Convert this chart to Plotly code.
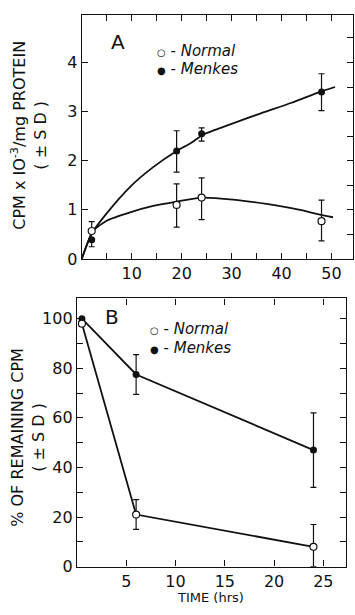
import plotly.graph_objects as go

# ---------------- Panel A data ----------------
a_time = [2, 19, 24, 48]
a_normal = [0.57, 1.10, 1.25, 0.77]
a_normal_up = [0.19, 0.43, 0.40, 0.43]
a_normal_dn = [0.0, 0.45, 0.45, 0.40]
a_menkes = [0.39, 2.20, 2.55, 3.40]
a_menkes_up = [0.0, 0.41, 0.12, 0.37]
a_menkes_dn = [0.14, 0.43, 0.15, 0.38]

a_fit_normal_t = [0, 2.3, 5, 9.7, 14.3, 19, 24, 30.3, 37, 43.7, 47, 50.3]
a_fit_normal_y = [0, 0.57, 0.78, 0.95, 1.08, 1.17, 1.25, 1.21, 1.12, 1.00, 0.92, 0.85]
a_fit_menkes_t = [0, 2, 5, 9.7, 14.3, 19, 21.7, 24.3, 30, 36, 42, 47.7, 50.7]
a_fit_menkes_y = [0, 0.52, 0.93, 1.47, 1.87, 2.20, 2.35, 2.53, 2.75, 2.97, 3.18, 3.40, 3.50]

a_xticks = [10, 20, 30, 40, 50]
a_yticks = [0, 1, 2, 3, 4]

# ---------------- Panel B data ----------------
b_time = [0.5, 6, 24]
b_normal = [98, 21, 8]
b_normal_up = [0, 6, 9]
b_normal_dn = [0, 6, 8]
b_menkes = [100, 77.5, 47]
b_menkes_up = [0, 8, 15]
b_menkes_dn = [0, 8, 15]

b_xticks = [5, 10, 15, 20, 25]
b_yticks = [0, 20, 40, 60, 80, 100]

W, H = 355, 615
FONT = "DejaVu Sans"
BLACK = "#111111"


def px_x(p):
    return p / W


def px_y(p):
    return 1 - p / H


fig = go.Figure()

# Panel A curves
fig.add_trace(go.Scatter(x=a_fit_menkes_t, y=a_fit_menkes_y, mode="lines",
                         line=dict(color=BLACK, width=1.8, shape="spline", smoothing=0.6),
                         xaxis="x", yaxis="y", showlegend=False, hoverinfo="skip"))
fig.add_trace(go.Scatter(x=a_fit_normal_t, y=a_fit_normal_y, mode="lines",
                         line=dict(color=BLACK, width=1.8, shape="spline", smoothing=0.6),
                         xaxis="x", yaxis="y", showlegend=False, hoverinfo="skip"))
# Panel A points
fig.add_trace(go.Scatter(x=a_time, y=a_menkes, mode="markers",
                         marker=dict(symbol="circle", size=7, color=BLACK),
                         error_y=dict(type="data", symmetric=False, array=a_menkes_up,
                                      arrayminus=a_menkes_dn, color=BLACK, thickness=1.2, width=3),
                         xaxis="x", yaxis="y", showlegend=False))
fig.add_trace(go.Scatter(x=a_time, y=a_normal, mode="markers",
                         marker=dict(symbol="circle", size=7, color="white",
                                     line=dict(color=BLACK, width=1.2)),
                         error_y=dict(type="data", symmetric=False, array=a_normal_up,
                                      arrayminus=a_normal_dn, color=BLACK, thickness=1.2, width=3),
                         xaxis="x", yaxis="y", showlegend=False))

# Panel B lines + points
fig.add_trace(go.Scatter(x=b_time, y=b_menkes, mode="lines+markers",
                         line=dict(color=BLACK, width=1.8),
                         marker=dict(symbol="circle", size=7, color=BLACK),
                         error_y=dict(type="data", symmetric=False, array=b_menkes_up,
                                      arrayminus=b_menkes_dn, color=BLACK, thickness=1.2, width=3),
                         xaxis="x2", yaxis="y2", showlegend=False))
fig.add_trace(go.Scatter(x=b_time, y=b_normal, mode="lines+markers",
                         line=dict(color=BLACK, width=1.8),
                         marker=dict(symbol="circle", size=7, color="white",
                                     line=dict(color=BLACK, width=1.2)),
                         error_y=dict(type="data", symmetric=False, array=b_normal_up,
                                      arrayminus=b_normal_dn, color=BLACK, thickness=1.2, width=3),
                         xaxis="x2", yaxis="y2", showlegend=False))

# invisible traces so that the top / right tick axes are drawn
fig.add_trace(go.Scatter(x=[0], y=[0], mode="markers", marker=dict(opacity=0),
                         xaxis="x3", yaxis="y3", showlegend=False, hoverinfo="skip"))
fig.add_trace(go.Scatter(x=[0], y=[0], mode="markers", marker=dict(opacity=0),
                         xaxis="x4", yaxis="y4", showlegend=False, hoverinfo="skip"))

tickfont = dict(family=FONT, size=16, color=BLACK)
lines = dict(showgrid=False, zeroline=False, showline=True, linecolor=BLACK, linewidth=1.3,
             ticks="inside", ticklen=6, tickwidth=1.2, tickcolor=BLACK)
common = dict(tickfont=tickfont, **lines)

A_X = [px_x(81.7), px_x(353)]
A_Y = [px_y(263.3), px_y(15)]
B_X = [px_x(77), px_x(346)]
B_Y = [px_y(576), px_y(303.3)]

fig.update_layout(
    width=W, height=H,
    margin=dict(l=0, r=0, t=0, b=0),
    paper_bgcolor="white", plot_bgcolor="white",
    xaxis=dict(domain=A_X, range=[0, 54.3], anchor="y",
               tickvals=a_xticks, ticktext=[str(v) for v in a_xticks],
               minor=dict(tick0=0, dtick=5, ticks="inside", ticklen=6, tickwidth=1.2,
                          tickcolor=BLACK),
               **common),
    yaxis=dict(domain=A_Y, range=[0, 4.97], anchor="x",
               tickvals=a_yticks, ticktext=[str(v) for v in a_yticks], **common),
    # top / right frame of panel A
    xaxis3=dict(overlaying="x", range=[0, 54.3], anchor="y3", side="top", tick0=0, dtick=5,
                showticklabels=False, **lines),
    yaxis3=dict(overlaying="y", range=[0, 4.97], anchor="x3", side="right", tick0=0, dtick=0.5,
                showticklabels=False, **lines),
    xaxis2=dict(domain=B_X, range=[0, 27.3], anchor="y2",
                tickvals=b_xticks, ticktext=[str(v) for v in b_xticks], **common),
    yaxis2=dict(domain=B_Y, range=[0, 108.2], anchor="x2",
                tickvals=b_yticks, ticktext=[str(v) for v in b_yticks],
                minor=dict(tick0=0, dtick=10, ticks="inside", ticklen=6, tickwidth=1.2,
                           tickcolor=BLACK),
                **common),
    # top / right frame of panel B
    xaxis4=dict(overlaying="x2", range=[0, 27.3], anchor="y4", side="top", tick0=0, dtick=5,
                showticklabels=False, **lines),
    yaxis4=dict(overlaying="y2", range=[0, 108.2], anchor="x4", side="right", tick0=0, dtick=10,
                showticklabels=False, **lines),
)

ann_font = dict(family=FONT, size=16, color=BLACK)
leg_font = dict(family=FONT, size=15, color=BLACK)
OPEN = '<span style="font-size:10px">○</span>'
FILLED = '<span style="font-size:10px">●</span>'
annotations = [
    dict(text="A", x=px_x(118), y=px_y(43), font=dict(family=FONT, size=20, color=BLACK)),
    dict(text="B", x=px_x(112), y=px_y(322), font=dict(family=FONT, size=20, color=BLACK)),
    dict(text=OPEN + " - <i>Normal</i>", x=px_x(155), y=px_y(52), xanchor="left", font=leg_font),
    dict(text=FILLED + " - <i>Menkes</i>", x=px_x(155), y=px_y(70), xanchor="left", font=leg_font),
    dict(text=OPEN + " - <i>Normal</i>", x=px_x(148), y=px_y(334), xanchor="left", font=leg_font),
    dict(text=FILLED + " - <i>Menkes</i>", x=px_x(148), y=px_y(354), xanchor="left", font=leg_font),
    dict(text="CPM x IO<sup>-3</sup>/mg PROTEIN<br>( ± S D )", x=px_x(29), y=px_y(138),
         textangle=-90, font=ann_font),
    dict(text="% OF REMAINING CPM<br>( ± S D )", x=px_x(28), y=px_y(445),
         textangle=-90, font=ann_font),
    dict(text="TIME (hrs)", x=px_x(210), y=px_y(607.5), font=dict(family=FONT, size=13, color=BLACK)),
]
for a in annotations:
    a.setdefault("xanchor", "center")
    a.update(xref="paper", yref="paper", showarrow=False, yanchor="middle")
fig.update_layout(annotations=annotations)

fig.write_html("out.html", config={"displayModeBar": False},
               post_script="document.body.style.margin='0';document.body.style.padding='0';")
